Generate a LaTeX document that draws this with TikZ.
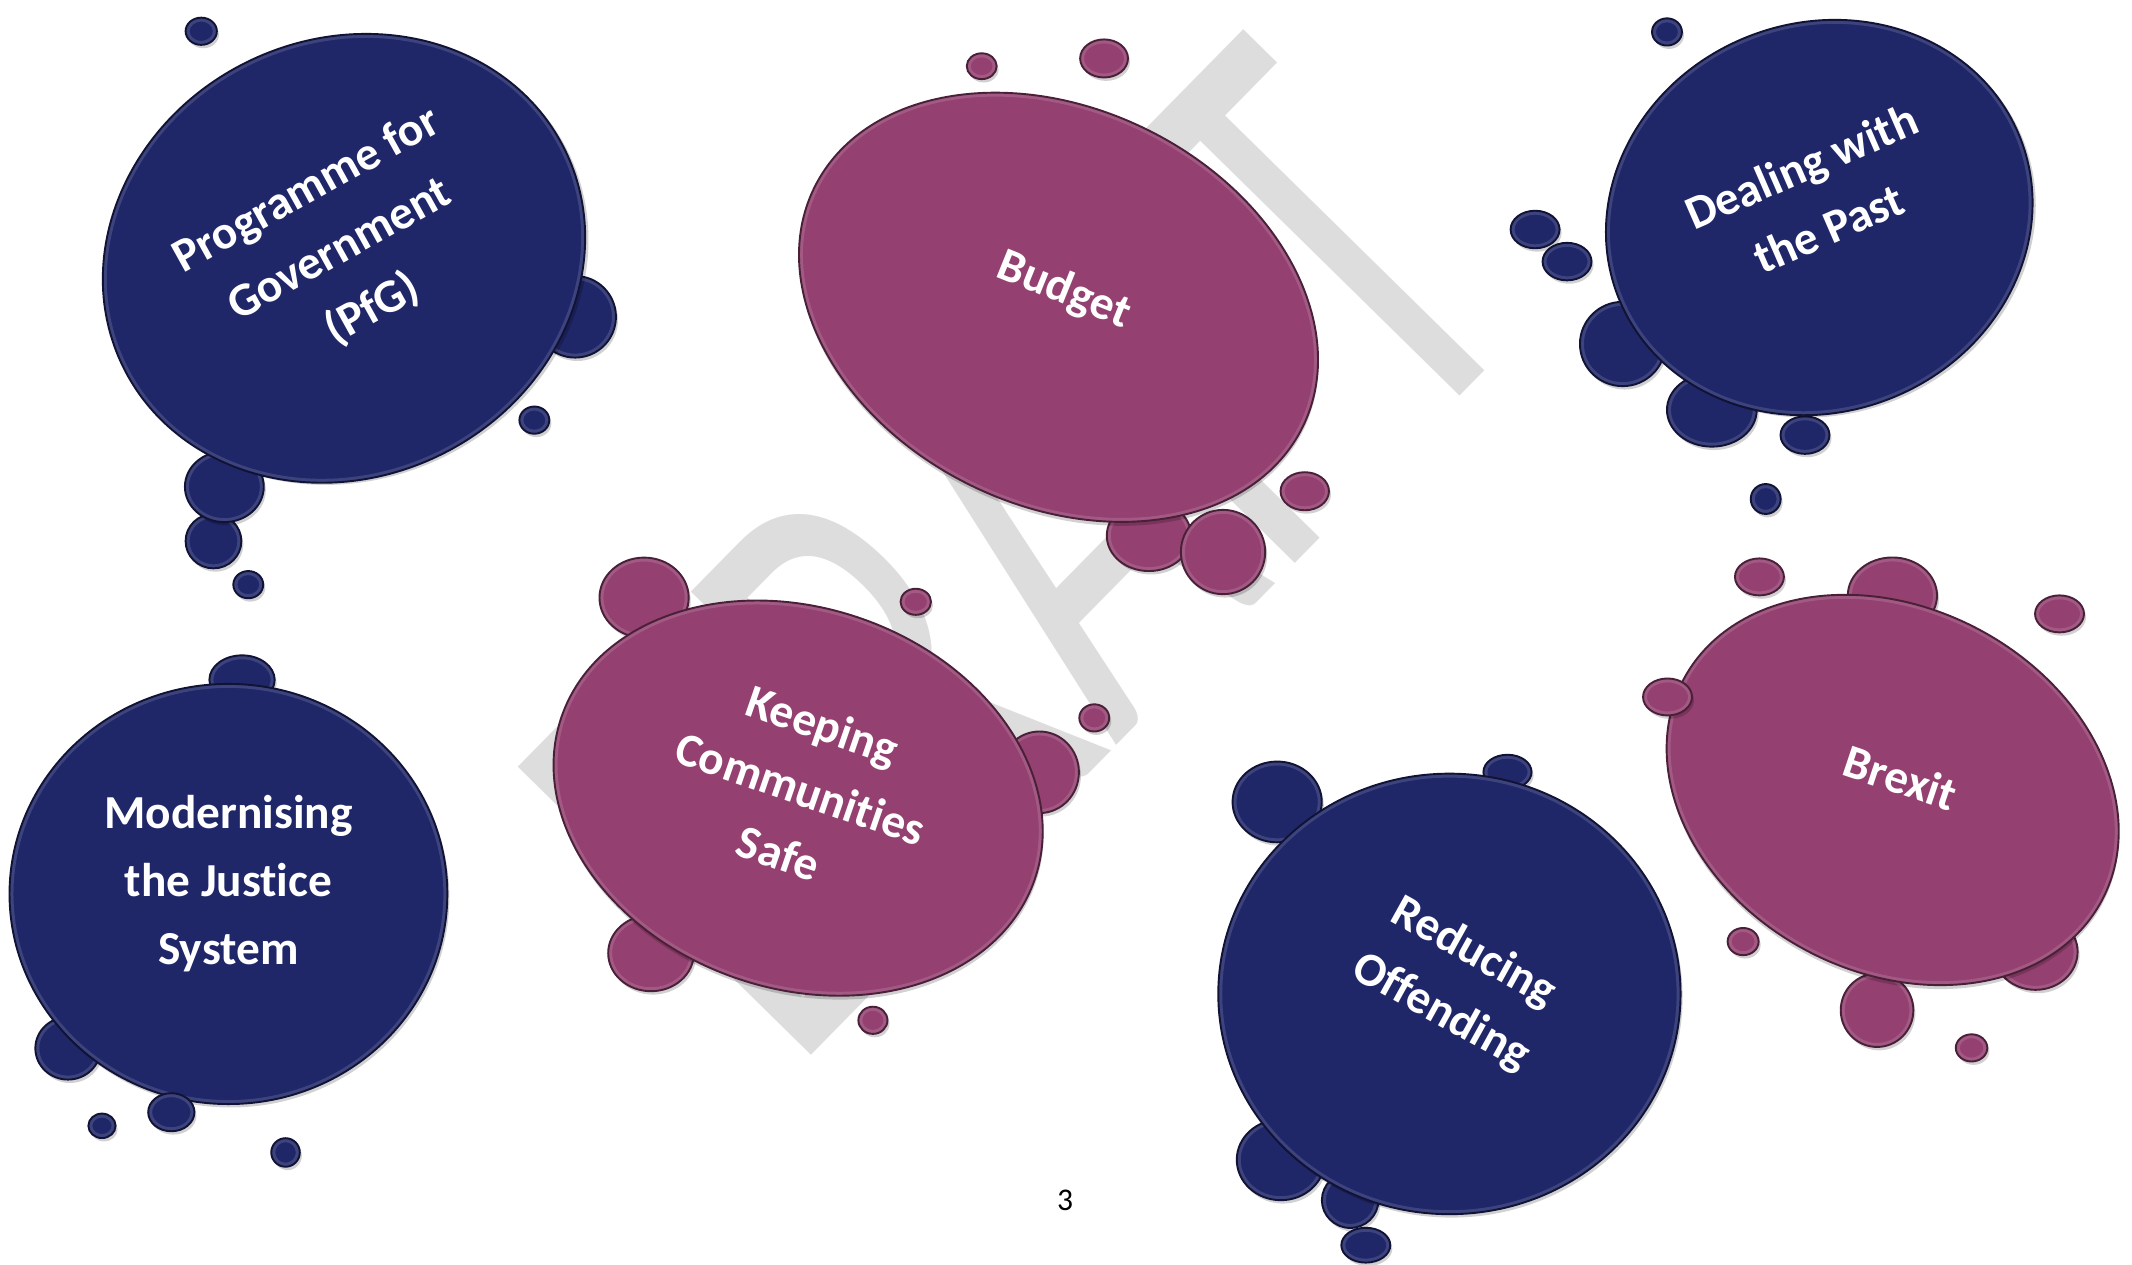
\documentclass[tikz,border=0pt]{standalone}
\usepackage{fontspec}
\setmainfont{Carlito}[Ligatures=NoCommon]
\usepackage{graphicx}
\definecolor{navy}{RGB}{31,39,105}
\definecolor{plum}{RGB}{148,64,112}
\definecolor{wm}{RGB}{221,221,221}
\newcommand\myblob[6]{%
  \fill[black,opacity=0.18,rotate around={#6:(#2,#3)}] (#2+1.5,#3-2.5) ellipse [x radius=#4, y radius=#5];
  \fill[#1,rotate around={#6:(#2,#3)}] (#2,#3) ellipse [x radius=#4, y radius=#5];
  \draw[#1!55!white,opacity=0.3,line width=0.8pt,rotate around={#6:(#2,#3)}] (#2,#3) ellipse [x radius=#4-1.5, y radius=#5-1.5];
  \draw[#1!50!black,line width=0.4pt,rotate around={#6:(#2,#3)}] (#2,#3) ellipse [x radius=#4, y radius=#5];
}
\tikzset{lbl/.style={text=white, font=\fontsize{9.9}{14.2}\selectfont\bfseries, align=center, inner sep=0pt}}
\begin{document}
\begin{tikzpicture}[x=0.01cm,y=0.01cm]
\useasboundingbox (0,0) rectangle (1568,930);
\fill[white] (0,0) rectangle (1568,930);
% watermark
\node[rotate=45.5, anchor=base west, inner sep=0pt, text=wm] (draft) at (582.6,138.9) {\scalebox{0.62}[1]{\fontsize{134}{134}\selectfont DRAFT}};
% PfG
\myblob{navy}{157}{532}{20.5}{20}{0}
\myblob{navy}{165}{572}{29}{26}{0}
\myblob{navy}{423}{697}{30}{30}{0}
\myblob{navy}{253}{740}{181}{161}{26}
\myblob{navy}{148}{907}{11.5}{10}{0}
\myblob{navy}{393}{621}{11}{10}{0}
\myblob{navy}{182.6}{500}{11}{10}{0}
% Budget
\myblob{plum}{845}{536}{31}{26}{0}
\myblob{plum}{899.5}{524}{31}{31}{0}
\myblob{plum}{778.5}{704}{200}{146}{-26}
\myblob{plum}{722}{881.3}{11}{9.5}{0}
\myblob{plum}{812}{887}{17.6}{14}{0}
\myblob{plum}{959.6}{568.7}{17.8}{14}{0}
% Dealing
\myblob{navy}{1193.4}{677}{31.4}{31}{0}
\myblob{navy}{1259}{628.5}{33}{27}{0}
\myblob{navy}{1327.5}{610}{18}{13.8}{0}
\myblob{navy}{1338}{770}{159}{143}{22}
\myblob{navy}{1226}{906.5}{11}{10}{0}
\myblob{navy}{1129}{761.2}{18}{13.8}{0}
\myblob{navy}{1152.5}{737.6}{18}{13.8}{0}
\myblob{navy}{1298.6}{563}{11}{11}{0}
% Modernising
\myblob{navy}{178}{430}{24}{18}{0}
\myblob{navy}{50}{159}{24}{23}{0}
\myblob{navy}{168}{272.5}{161}{154.5}{0}
\myblob{navy}{126}{112}{17}{14}{0}
\myblob{navy}{75}{102}{10}{9}{0}
\myblob{navy}{210}{82.4}{10.5}{10.5}{0}
% Keeping
\myblob{plum}{473.7}{490.4}{32.8}{29.5}{0}
\myblob{plum}{764.5}{362}{29}{30}{0}
\myblob{plum}{478.8}{229}{31.5}{28}{0}
\myblob{plum}{587}{343}{184}{140}{-19}
\myblob{plum}{673.5}{487.4}{11.2}{9.6}{0}
\myblob{plum}{804.8}{402}{11}{10}{0}
\myblob{plum}{642}{179.6}{10.7}{10}{0}
% Reducing
\myblob{navy}{939.3}{340.2}{32.8}{29.7}{0}
\myblob{navy}{1108.7}{362.2}{17.7}{12.7}{0}
\myblob{navy}{942}{77}{32.4}{29.7}{0}
\myblob{navy}{993}{47.3}{20.8}{20.4}{0}
\myblob{navy}{1066}{199}{170}{162}{0}
\myblob{navy}{1004.5}{14.2}{18}{12.8}{0}
% Brexit
\myblob{plum}{1391.8}{492}{32.8}{28}{0}
\myblob{plum}{1497}{230}{31}{28}{0}
\myblob{plum}{1380.5}{187}{26.7}{27}{0}
\myblob{plum}{1392}{349}{174}{134}{-27.6}
\myblob{plum}{1294}{505.7}{18}{13.6}{0}
\myblob{plum}{1514.7}{478.5}{18}{13.6}{0}
\myblob{plum}{1226.4}{417.4}{18}{13.6}{0}
\myblob{plum}{1282}{237.5}{11.4}{10}{0}
\myblob{plum}{1450}{159.3}{11.6}{10}{0}
% labels
\node[lbl, rotate=29] (pfg) at (250,746) {Programme for\\Government\\(PfG)};
\node[lbl, rotate=-22] (budget) at (782.4,716.3) {Budget};
\node[lbl, rotate=23.5] (dealing) at (1334.7,785) {Dealing with\\the Past};
\node[lbl] (modern) at (168,280) {Modernising\\the Justice\\System};
\node[lbl, rotate=-19] (keeping) at (589,350) {Keeping\\Communities\\Safe};
\node[lbl, rotate=-29] (reducing) at (1071.6,207.3) {Reducing\\Offending};
\node[lbl, rotate=-18.5] (brexit) at (1398,358) {Brexit};
\node[font=\fontsize{6.6}{8}\selectfont, inner sep=0pt] (page) at (783.3,47.4) {3};
\end{tikzpicture}
\end{document}
